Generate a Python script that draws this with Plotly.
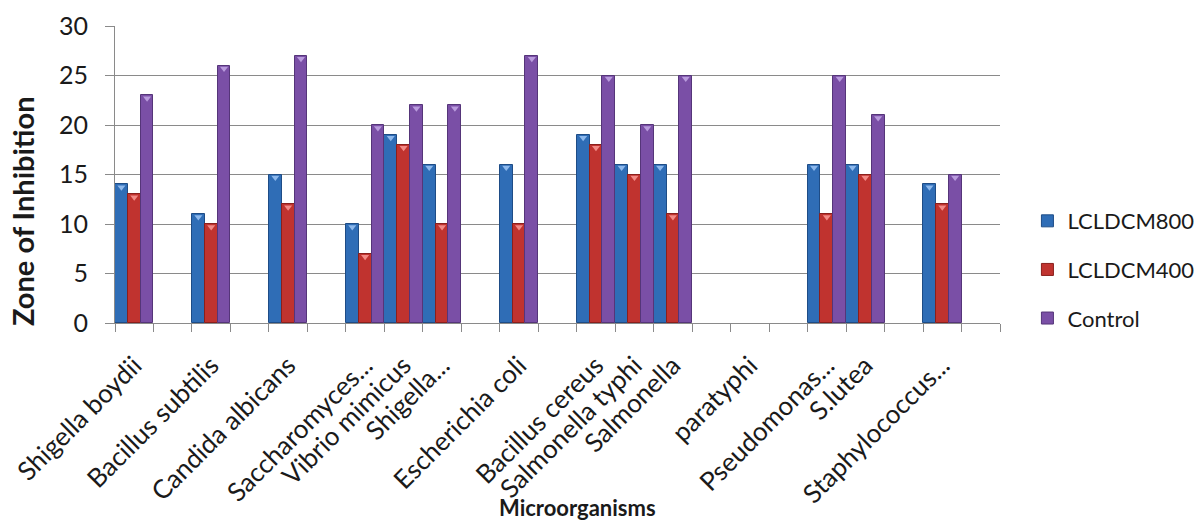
import plotly.graph_objects as go

# Category labels (blank entries are empty slots on the category axis)
labels = [
    "Shigella boydii", "", "Bacillus subtilis", "", "Candida albicans", "",
    "Saccharomyces...", "Vibrio mimicus", "Shigella...", "", "Escherichia coli", "",
    "Bacillus cereus", "Salmonella typhi", "Salmonella", "", "paratyphi", "",
    "Pseudomonas...", "S.lutea", "", "Staphylococcus...", "",
]

# Zone of inhibition (mm)
lcldcm800 = [14, None, 11, None, 15, None, 10, 19, 16, None, 16, None,
             19, 16, 16, None, None, None, 16, 16, None, 14, None]
lcldcm400 = [13, None, 10, None, 12, None, 7, 18, 10, None, 10, None,
             18, 15, 11, None, None, None, 11, 15, None, 12, None]
control = [23, None, 26, None, 27, None, 20, 22, 22, None, 27, None,
           25, 20, 25, None, None, None, 25, 21, None, 15, None]

series_names = ["LCLDCM800", "LCLDCM400", "Control"]
series_values = [lcldcm800, lcldcm400, control]
fill_colors = ["#2F6DB6", "#C0332F", "#7A4FA6"]
edge_colors = ["#1E4C86", "#8A1F1C", "#553579"]
cap_colors = ["#8DB8EC", "#F28A86", "#B99BDD"]

FONT = "Lato"
positions = list(range(len(labels)))
n_series = len(series_values)

fig = go.Figure()

for k, (name, vals) in enumerate(zip(series_names, series_values)):
    fig.add_trace(go.Bar(
        x=positions, y=vals, name=name,
        marker=dict(color=fill_colors[k], line=dict(color=edge_colors[k], width=1)),
        legendgroup=name,
    ))

# small bevel caps on top of each bar
for k, vals in enumerate(series_values):
    offset = (k - (n_series - 1) / 2) / n_series
    xs = [p + offset for p, v in zip(positions, vals) if v is not None]
    ys = [v - 0.3 for v in vals if v is not None]
    fig.add_trace(go.Scatter(
        x=xs, y=ys, mode="markers", showlegend=False, hoverinfo="skip",
        marker=dict(symbol="triangle-down", size=7, color=cap_colors[k], line=dict(width=0)),
    ))

tick_positions = [i for i, t in enumerate(labels) if t]
tick_text = [t for t in labels if t]
boundaries = [i - 0.5 for i in range(len(labels) + 1)]

fig.update_layout(
    width=1202, height=521,
    margin=dict(l=115, r=202, t=26, b=198, autoexpand=False),
    paper_bgcolor="white", plot_bgcolor="white",
    barmode="group", bargap=0, bargroupgap=0,
    font=dict(family=FONT, color="#1a1a1a"),
    legend=dict(
        x=1.031, y=0.18, xanchor="left", yanchor="middle",
        font=dict(family=FONT, size=22, color="#1a1a1a"),
        tracegroupgap=17, itemwidth=30,
    ),
    xaxis=dict(
        range=[-0.5, len(labels) - 0.5], automargin=False,
        tickmode="array", tickvals=tick_positions, ticktext=tick_text,
        tickangle=-45, ticks="",
        tickfont=dict(family=FONT, size=26, color="#1a1a1a"),
        ticklabelstandoff=16,
        showline=True, linecolor="#8a8a8a", linewidth=1,
        showgrid=False, zeroline=False,
        minor=dict(tickmode="array", tickvals=boundaries, ticks="outside",
                   ticklen=8, tickcolor="#8a8a8a", tickwidth=1, showgrid=False),
    ),
    yaxis=dict(
        range=[0, 30], dtick=5, tick0=0, automargin=False,
        ticks="outside", ticklen=9, tickcolor="#8a8a8a",
        tickfont=dict(family=FONT, size=25, color="#1a1a1a"),
        ticklabelstandoff=12,
        showline=True, linecolor="#8a8a8a", linewidth=1,
        showgrid=True, gridcolor="#8a8a8a", gridwidth=1,
        zeroline=False,
    ),
    annotations=[
        dict(text="<b>Zone of Inhibition</b>", textangle=-90,
             xref="paper", yref="paper", x=-0.105, y=0.377,
             xanchor="center", yanchor="middle", showarrow=False,
             font=dict(family=FONT, size=29, color="#1a1a1a")),
        dict(text="<b>Microorganisms</b>",
             xref="paper", yref="paper", x=0.523, y=-0.62,
             xanchor="center", yanchor="middle", showarrow=False,
             font=dict(family=FONT, size=22, color="#1a1a1a")),
    ],
)

fig.write_html("out.html")
